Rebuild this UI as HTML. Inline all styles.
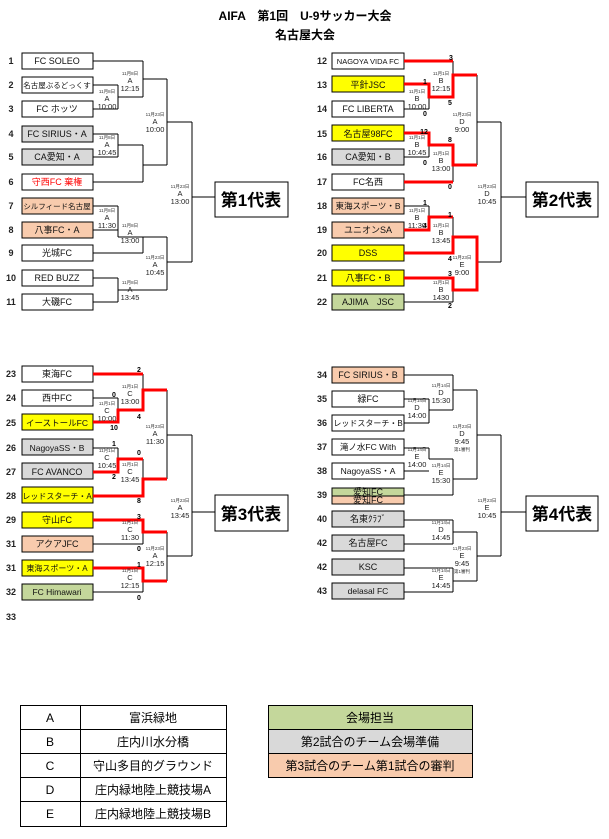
<!DOCTYPE html>
<html><head><meta charset="utf-8"><style>
html,body{margin:0;padding:0;background:#fff;width:609px;height:839px;overflow:hidden}
svg{display:block;font-family:"Liberation Sans","Noto Sans CJK JP",sans-serif}
.n{font-size:9px;font-weight:bold;fill:#222}
.t{font-size:9px;fill:#111}
.d{font-size:4.5px;fill:#333}
.m{font-size:7.5px;fill:#222}
.s{font-size:7px;font-weight:bold;fill:#000}
.k{fill:none;stroke:#000;stroke-width:1}
.r{fill:none;stroke:#f00;stroke-width:3}
</style></head><body>
<svg width="609" height="839" viewBox="0 0 609 839" xmlns="http://www.w3.org/2000/svg">
<text x="305" y="20" text-anchor="middle" font-size="12" font-weight="bold">AIFA　第1回　U-9サッカー大会</text>
<text x="305" y="39" text-anchor="middle" font-size="12" font-weight="bold">名古屋大会</text>

<!-- ===== Bracket 1 ===== -->
<g stroke="#000" fill="#fff" stroke-width="1">
<rect x="22" y="53" width="71" height="16"/><rect x="22" y="77" width="71" height="16"/><rect x="22" y="101" width="71" height="16"/>
<rect x="22" y="126" width="71" height="16" fill="#d9d9d9"/><rect x="22" y="149" width="71" height="16" fill="#d9d9d9"/><rect x="22" y="174" width="71" height="16"/>
<rect x="22" y="198" width="71" height="16" fill="#f8cbad"/><rect x="22" y="222" width="71" height="16" fill="#f8cbad"/><rect x="22" y="245" width="71" height="16"/>
<rect x="22" y="270" width="71" height="16"/><rect x="22" y="294" width="71" height="16"/>
<rect x="215" y="182" width="73" height="35"/>
</g>
<g class="n" text-anchor="middle">
<text x="11" y="64">1</text><text x="11" y="88">2</text><text x="11" y="112">3</text><text x="11" y="137">4</text><text x="11" y="160">5</text><text x="11" y="185">6</text><text x="11" y="209">7</text><text x="11" y="233">8</text><text x="11" y="256">9</text><text x="11" y="281">10</text><text x="11" y="305">11</text>
</g>
<g class="t" text-anchor="middle">
<text x="57" y="64">FC SOLEO</text><text x="57" y="88" font-size="7.5">名古屋ぶるどっくす</text><text x="57" y="112">FC ホッツ</text>
<text x="57" y="137">FC SIRIUS・A</text><text x="57" y="160">CA愛知・A</text><text x="57" y="185" fill="#f00">守西FC 棄権</text>
<text x="57" y="209" font-size="7.5">シルフィード名古屋</text><text x="57" y="233">八事FC・A</text><text x="57" y="256">光城FC</text>
<text x="57" y="281">RED BUZZ</text><text x="57" y="305">大磯FC</text>
</g>
<text x="251" y="206" text-anchor="middle" font-size="17" font-weight="bold">第1代表</text>
<path class="k" d="M93 61H143M93 85H118M93 109H118M118 85V109M118 97H143M143 61V97M143 79H167
M93 134H118M93 157H118M118 134V157M118 145H143M93 182H143M143 145V182M143 165H167M167 79V165M167 122H192
M93 206H118M93 230H118M118 206V237M118 237H143M93 253H143M143 237V253M143 237H167M167 237V290
M93 278H118M93 302H118M118 278V302M118 290H167M167 262H192M192 122V262M192 197H215"/>
<g text-anchor="middle">
<text class="d" x="130" y="75">11月8日</text><text class="m" x="130" y="83">A</text><text class="m" x="130" y="91">12:15</text>
<text class="d" x="107" y="93">11月8日</text><text class="m" x="107" y="101">A</text><text class="m" x="107" y="109">10:00</text>
<text class="d" x="155" y="116">11月23日</text><text class="m" x="155" y="124">A</text><text class="m" x="155" y="132">10:00</text>
<text class="d" x="107" y="139">11月8日</text><text class="m" x="107" y="147">A</text><text class="m" x="107" y="155">10:45</text>
<text class="d" x="180" y="188">11月23日</text><text class="m" x="180" y="196">A</text><text class="m" x="180" y="204">13:00</text>
<text class="d" x="107" y="212">11月8日</text><text class="m" x="107" y="220">A</text><text class="m" x="107" y="228">11:30</text>
<text class="d" x="130" y="227">11月8日</text><text class="m" x="130" y="235">A</text><text class="m" x="130" y="243" fill="#f00">13:00</text>
<text class="d" x="155" y="259">11月23日</text><text class="m" x="155" y="267">A</text><text class="m" x="155" y="275">10:45</text>
<text class="d" x="130" y="284">11月8日</text><text class="m" x="130" y="292">A</text><text class="m" x="130" y="300" fill="#f00">13:45</text>
</g>

<!-- ===== Bracket 2 ===== -->
<g stroke="#000" fill="#fff" stroke-width="1">
<rect x="332" y="53" width="72" height="16"/><rect x="332" y="76" width="72" height="16" fill="#ffff00"/><rect x="332" y="101" width="72" height="16"/>
<rect x="332" y="125" width="72" height="16" fill="#ffff00"/><rect x="332" y="149" width="72" height="16" fill="#d9d9d9"/><rect x="332" y="174" width="72" height="16"/>
<rect x="332" y="198" width="72" height="16" fill="#f8cbad"/><rect x="332" y="222" width="72" height="16" fill="#f8cbad"/><rect x="332" y="245" width="72" height="16" fill="#ffff00"/>
<rect x="332" y="270" width="72" height="16" fill="#ffff00"/><rect x="332" y="294" width="72" height="16" fill="#c4d79b"/>
<rect x="526" y="182" width="72" height="35"/>
</g>
<g class="n" text-anchor="middle">
<text x="322" y="64">12</text><text x="322" y="88">13</text><text x="322" y="112">14</text><text x="322" y="137">15</text><text x="322" y="160">16</text><text x="322" y="185">17</text><text x="322" y="209">18</text><text x="322" y="233">19</text><text x="322" y="256">20</text><text x="322" y="281">21</text><text x="322" y="305">22</text>
</g>
<g class="t" text-anchor="middle">
<text x="368" y="64" font-size="7.5">NAGOYA VIDA FC</text><text x="368" y="88">平針JSC</text><text x="368" y="112">FC LIBERTA</text>
<text x="368" y="137">名古屋98FC</text><text x="368" y="160">CA愛知・B</text><text x="368" y="185">FC名西</text>
<text x="368" y="209" font-size="8.5">東海スポーツ・B</text><text x="368" y="233">ユニオンSA</text><text x="368" y="256">DSS</text>
<text x="368" y="281">八事FC・B</text><text x="368" y="305">AJIMA　JSC</text>
</g>
<text x="562" y="206" text-anchor="middle" font-size="17" font-weight="bold">第2代表</text>
<path class="k" d="M404 61H453M404 84H429M404 109H429M429 84V109M429 97H453M453 61V97M453 75H477
M404 133H429M404 157H429M429 133V157M429 145H453M404 182H453M453 145V182M453 165H477M477 75V165M477 122H501
M404 206H429M404 230H429M429 206V230M429 217H453M404 253H453M453 217V253M453 237H477M477 237V290
M404 278H453M404 302H453M453 278V302M453 290H477M477 262H501M501 122V262M501 197H526"/>
<path class="r" d="M404 61H453M404 84H429V97H453V75H477M404 133H429V145H453V165H477M404 182H453
M404 230H429V217H453M404 253H453V237H477V290H453V278H404"/>
<g text-anchor="middle">
<text class="d" x="441" y="75">11月1日</text><text class="m" x="441" y="83">B</text><text class="m" x="441" y="91">12:15</text>
<text class="d" x="417" y="93">11月1日</text><text class="m" x="417" y="101">B</text><text class="m" x="417" y="109">10:00</text>
<text class="d" x="462" y="116">11月23日</text><text class="m" x="462" y="124">D</text><text class="m" x="462" y="132">9:00</text>
<text class="d" x="417" y="139">11月1日</text><text class="m" x="417" y="147">B</text><text class="m" x="417" y="155">10:45</text>
<text class="d" x="441" y="155">11月1日</text><text class="m" x="441" y="163">B</text><text class="m" x="441" y="171">13:00</text>
<text class="d" x="487" y="188">11月23日</text><text class="m" x="487" y="196">D</text><text class="m" x="487" y="204">10:45</text>
<text class="d" x="417" y="212">11月1日</text><text class="m" x="417" y="220">B</text><text class="m" x="417" y="228">11:30</text>
<text class="d" x="441" y="227">11月1日</text><text class="m" x="441" y="235">B</text><text class="m" x="441" y="243">13:45</text>
<text class="d" x="462" y="259">11月23日</text><text class="m" x="462" y="267">E</text><text class="m" x="462" y="275">9:00</text>
<text class="d" x="441" y="284">11月1日</text><text class="m" x="441" y="292">B</text><text class="m" x="441" y="300">1430</text>
</g>
<g class="s" text-anchor="middle">
<text x="451" y="60">3</text><text x="425" y="84">1</text><text x="450" y="105">5</text><text x="425" y="116">0</text>
<text x="424" y="134">12</text><text x="450" y="142">8</text><text x="425" y="165">0</text><text x="450" y="189">0</text>
<text x="425" y="205">1</text><text x="450" y="217">1</text><text x="425" y="228">4</text><text x="450" y="261">4</text>
<text x="450" y="276">3</text><text x="450" y="308">2</text>
</g>

<!-- ===== Bracket 3 ===== -->
<g stroke="#000" fill="#fff" stroke-width="1">
<rect x="22" y="366" width="71" height="16"/><rect x="22" y="390" width="71" height="16"/><rect x="22" y="414" width="71" height="16" fill="#ffff00"/>
<rect x="22" y="439" width="71" height="16" fill="#d9d9d9"/><rect x="22" y="463" width="71" height="16" fill="#d9d9d9"/><rect x="22" y="487" width="71" height="16" fill="#ffff00"/>
<rect x="22" y="512" width="71" height="16" fill="#ffff00"/><rect x="22" y="536" width="71" height="16" fill="#f8cbad"/><rect x="22" y="560" width="71" height="16" fill="#ffff00"/>
<rect x="22" y="584" width="71" height="16" fill="#c4d79b"/>
<rect x="215" y="495" width="73" height="36"/>
</g>
<g class="n" text-anchor="middle">
<text x="11" y="377">23</text><text x="11" y="401">24</text><text x="11" y="426">25</text><text x="11" y="451">26</text><text x="11" y="475">27</text><text x="11" y="499">28</text><text x="11" y="523">29</text><text x="11" y="547">31</text><text x="11" y="571">31</text><text x="11" y="595">32</text><text x="11" y="620">33</text>
</g>
<g class="t" text-anchor="middle">
<text x="57" y="377">東海FC</text><text x="57" y="401">西中FC</text><text x="57" y="426" font-size="8.5">イーストールFC</text>
<text x="57" y="451" font-size="8.5">NagoyaSS・B</text><text x="57" y="475">FC AVANCO</text><text x="57" y="499" font-size="8">レッドスターチ・A</text>
<text x="57" y="523">守山FC</text><text x="57" y="547">アクアJFC</text><text x="57" y="571" font-size="8">東海スポーツ・A</text><text x="57" y="595" font-size="8.5">FC Himawari</text>
</g>
<text x="251" y="520" text-anchor="middle" font-size="17" font-weight="bold">第3代表</text>
<path class="k" d="M93 374H143M93 398H118M93 422H118M118 398V422M118 410H143M143 374V410M143 390H167
M93 448H118M93 472H118M118 448V472M118 459H143M93 496H143M143 459V496M143 479H167M167 390V479M167 435H192
M93 520H143M93 544H143M143 520V544M143 532H167M93 568H143M93 592H143M143 568V592M143 581H167M167 532V581M167 556H192M192 435V556M192 512H215"/>
<path class="r" d="M93 374H143M93 422H118V410H143V390H167M93 472H118V459H143M93 496H143V479H167
M93 520H143V532H167M93 568H143V581H167"/>
<g text-anchor="middle">
<text class="d" x="130" y="388">11月1日</text><text class="m" x="130" y="396">C</text><text class="m" x="130" y="404">13:00</text>
<text class="d" x="107" y="405">11月1日</text><text class="m" x="107" y="413">C</text><text class="m" x="107" y="421">10:00</text>
<text class="d" x="155" y="428">11月23日</text><text class="m" x="155" y="436">A</text><text class="m" x="155" y="444">11:30</text>
<text class="d" x="107" y="452">11月1日</text><text class="m" x="107" y="460">C</text><text class="m" x="107" y="468">10:45</text>
<text class="d" x="130" y="466">11月1日</text><text class="m" x="130" y="474">C</text><text class="m" x="130" y="482">13:45</text>
<text class="d" x="180" y="502">11月23日</text><text class="m" x="180" y="510">A</text><text class="m" x="180" y="518">13:45</text>
<text class="d" x="130" y="524">11月1日</text><text class="m" x="130" y="532">C</text><text class="m" x="130" y="540">11:30</text>
<text class="d" x="155" y="550">11月23日</text><text class="m" x="155" y="558">A</text><text class="m" x="155" y="566">12:15</text>
<text class="d" x="130" y="572">11月1日</text><text class="m" x="130" y="580">C</text><text class="m" x="130" y="588">12:15</text>
</g>
<g class="s" text-anchor="middle">
<text x="139" y="372">2</text><text x="114" y="397">0</text><text x="139" y="419">4</text><text x="114" y="430">10</text>
<text x="114" y="446">1</text><text x="139" y="455">0</text><text x="114" y="479">2</text><text x="139" y="503">8</text>
<text x="139" y="519">3</text><text x="139" y="551">0</text><text x="139" y="567">1</text><text x="139" y="600">0</text>
</g>

<!-- ===== Bracket 4 ===== -->
<g stroke="#000" fill="#fff" stroke-width="1">
<rect x="332" y="367" width="72" height="16" fill="#f8cbad"/><rect x="332" y="391" width="72" height="16"/><rect x="332" y="415" width="72" height="16"/>
<rect x="332" y="439" width="72" height="16"/><rect x="332" y="463" width="72" height="16"/>
<rect x="332" y="488" width="72" height="8" fill="#c4d79b"/><rect x="332" y="496" width="72" height="8" fill="#f8cbad"/>
<rect x="332" y="511" width="72" height="16" fill="#d9d9d9"/><rect x="332" y="535" width="72" height="16" fill="#d9d9d9"/><rect x="332" y="559" width="72" height="16" fill="#d9d9d9"/>
<rect x="332" y="583" width="72" height="16" fill="#d9d9d9"/>
<rect x="526" y="496" width="72" height="35"/>
</g>
<g class="n" text-anchor="middle">
<text x="322" y="378">34</text><text x="322" y="402">35</text><text x="322" y="426">36</text><text x="322" y="450">37</text><text x="322" y="474">38</text><text x="322" y="498">39</text><text x="322" y="522">40</text><text x="322" y="546">42</text><text x="322" y="570">42</text><text x="322" y="594">43</text>
</g>
<g class="t" text-anchor="middle">
<text x="368" y="378">FC SIRIUS・B</text><text x="368" y="402">緑FC</text><text x="368" y="426" font-size="8">レッドスターチ・B</text>
<text x="368" y="450" font-size="8.5">滝ノ水FC With</text><text x="368" y="474" font-size="8.5">NagoyaSS・A</text>
<text x="368" y="495">愛知FC</text><text x="368" y="503">愛知FC</text>
<text x="368" y="522">名東ｸﾗﾌﾞ</text><text x="368" y="546">名古屋FC</text><text x="368" y="570">KSC</text><text x="368" y="594" font-size="8.5">delasal FC</text>
</g>
<text x="562" y="520" text-anchor="middle" font-size="17" font-weight="bold">第4代表</text>
<path class="k" d="M404 375H453M404 399H429M404 423H429M429 399V423M429 410H453M453 375V410M453 390H477
M404 448H429M404 471H429M429 448V459M429 459H453M404 495H453M453 459V495M453 479H477M477 390V479M477 435H501
M404 520H453M404 544H453M453 520V544M453 532H477M404 568H453M404 592H453M453 568V592M453 581H477M477 532V581M477 556H501M501 435V556M501 512H526"/>
<g text-anchor="middle">
<text class="d" x="441" y="387">11月14日</text><text class="m" x="441" y="395">D</text><text class="m" x="441" y="403">15:30</text>
<text class="d" x="417" y="402">11月14日</text><text class="m" x="417" y="410">D</text><text class="m" x="417" y="418">14:00</text>
<text class="d" x="462" y="428">11月23日</text><text class="m" x="462" y="436">D</text><text class="m" x="462" y="444">9:45</text><text class="d" x="462" y="451">第1審判</text>
<text class="d" x="417" y="451">11月14日</text><text class="m" x="417" y="459">E</text><text class="m" x="417" y="467">14:00</text>
<text class="d" x="441" y="467">11月14日</text><text class="m" x="441" y="475">E</text><text class="m" x="441" y="483">15:30</text>
<text class="d" x="487" y="502">11月23日</text><text class="m" x="487" y="510">E</text><text class="m" x="487" y="518">10:45</text>
<text class="d" x="441" y="524">11月14日</text><text class="m" x="441" y="532">D</text><text class="m" x="441" y="540">14:45</text>
<text class="d" x="462" y="550">11月23日</text><text class="m" x="462" y="558">E</text><text class="m" x="462" y="566">9:45</text><text class="d" x="462" y="573">第1審判</text>
<text class="d" x="441" y="572">11月14日</text><text class="m" x="441" y="580">E</text><text class="m" x="441" y="588">14:45</text>
</g>

<!-- ===== Legend ===== -->
<g stroke="#000" stroke-width="1" fill="#fff">
<rect x="20.5" y="705.5" width="206" height="121"/>
<path d="M80.5 705.5V826.5M20.5 729.5H226.5M20.5 753.5H226.5M20.5 777.5H226.5M20.5 801.5H226.5" fill="none"/>
<rect x="268.5" y="705.5" width="204" height="24" fill="#c4d79b"/>
<rect x="268.5" y="729.5" width="204" height="24" fill="#d9d9d9"/>
<rect x="268.5" y="753.5" width="204" height="24" fill="#f8cbad"/>
</g>
<g font-size="12" text-anchor="middle" fill="#000">
<text x="50" y="722">A</text><text x="153" y="722">富浜緑地</text>
<text x="50" y="746">B</text><text x="153" y="746">庄内川水分橋</text>
<text x="50" y="770">C</text><text x="153" y="770">守山多目的グラウンド</text>
<text x="50" y="794">D</text><text x="153" y="794">庄内緑地陸上競技場A</text>
<text x="50" y="818">E</text><text x="153" y="818">庄内緑地陸上競技場B</text>
<text x="370" y="722">会場担当</text>
<text x="370" y="746">第2試合のチーム会場準備</text>
<text x="370" y="770">第3試合のチーム第1試合の審判</text>
</g>
</svg>
</body></html>
